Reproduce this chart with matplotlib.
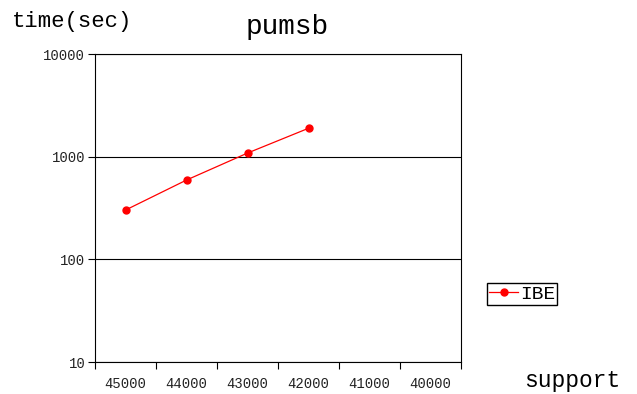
import numpy as np
from matplotlib import pyplot as plt
from matplotlib.ticker import FixedLocator, NullFormatter, FixedFormatter

support = [45000, 44000, 43000, 42000, 41000, 40000]
ibe_time = [302, 592, 1084, 1890]

mono = ["Liberation Mono", "DejaVu Sans Mono"]

fig = plt.figure(figsize=(6.37, 3.94), dpi=100)
ax = fig.add_axes([95 / 637, 32 / 394, 366 / 637, 308 / 394])

x = np.arange(len(support))
ax.plot(x[: len(ibe_time)], ibe_time, color="red", lw=0.9, marker="o", markersize=5, label="IBE")

ax.set_yscale("log")
ax.set_ylim(10, 10000)
ax.yaxis.set_major_locator(FixedLocator([10, 100, 1000, 10000]))
ax.yaxis.set_major_formatter(FixedFormatter(["10", "100", "1000", "10000"]))
ax.yaxis.set_minor_locator(FixedLocator([]))
ax.grid(axis="y", which="major", color="black", lw=0.8)

# category axis: ticks at boundaries, labels centered
ax.set_xlim(-0.5, len(support) - 0.5)
ax.xaxis.set_major_locator(FixedLocator(np.arange(len(support) + 1) - 0.5))
ax.xaxis.set_major_formatter(NullFormatter())
ax.xaxis.set_minor_locator(FixedLocator(x))
ax.xaxis.set_minor_formatter(FixedFormatter([str(s) for s in support]))
ax.tick_params(axis="x", which="minor", length=0, pad=11, labelsize=10, labelcolor="#222222")
ax.tick_params(axis="x", which="major", length=5, width=0.8)
ax.tick_params(axis="y", which="major", length=5, width=0.8, pad=2, labelsize=10, labelcolor="#222222")
for lbl in ax.get_xticklabels(minor=True) + ax.get_yticklabels():
    lbl.set_family(mono)

for s in ax.spines.values():
    s.set_linewidth(0.8)
    s.set_color("black")

fig.text(12 / 637, 1 - 21 / 394, "time(sec)", family=mono, fontsize=16, va="center", ha="left")
fig.text(287 / 637, 1 - 27 / 394, "pumsb", family=mono, fontsize=20, va="center", ha="center")
fig.text(524 / 637, 1 - 381 / 394, "support", family=mono, fontsize=16.5, va="center", ha="left")

fig.legend(loc="center left", bbox_to_anchor=(487 / 637, 1 - 294 / 394), prop={"family": mono, "size": 14},
           frameon=True, fancybox=False, edgecolor="black", framealpha=1, borderpad=0.1,
           handlelength=1.5, handletextpad=0.1, borderaxespad=0)

fig.savefig("out.png", dpi=100)
